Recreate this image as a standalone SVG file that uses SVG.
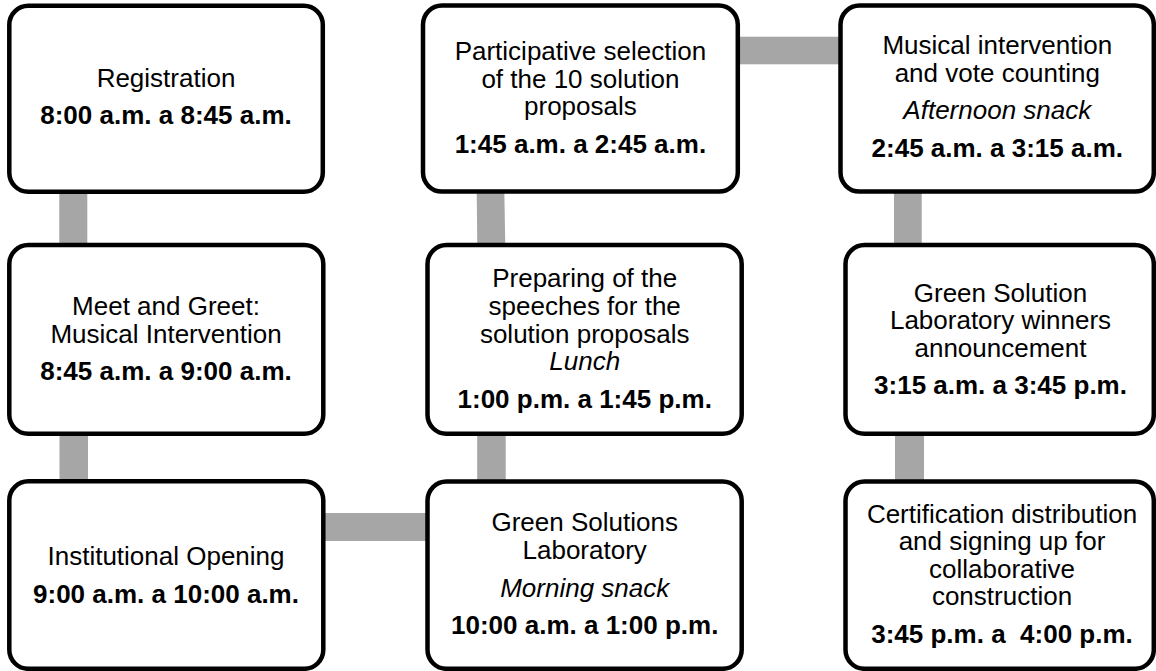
<svg xmlns="http://www.w3.org/2000/svg" width="1156" height="671" viewBox="0 0 1156 671">
  <style>
    .box { fill: #ffffff; stroke: #000000; stroke-width: 4.5; }
    .bar { fill: #a6a6a6; }
    text { font-family: "Liberation Sans", Arial, sans-serif; font-size: 26px; fill: #000000; text-anchor: middle; }
    .b { font-weight: bold; }
    .i { font-style: italic; }
  </style>
  <rect width="1156" height="671" fill="#ffffff"/>
  <g id="connectors">
    <rect class="bar" x="59.3" y="190" width="28" height="58"/>
    <rect class="bar" x="59.5" y="430" width="28.5" height="55"/>
    <rect class="bar" x="320" y="513" width="110" height="28"/>
    <rect class="bar" x="477.2" y="430" width="28.5" height="55"/>
    <polygon class="bar" points="476.7,190 504.3,190 505.3,248 477.3,248"/>
    <rect class="bar" x="735" y="36.7" width="110" height="27.6"/>
    <rect class="bar" x="894" y="190" width="27.7" height="58"/>
    <rect class="bar" x="895" y="430" width="29" height="55"/>
  </g>
  <g id="registration">
    <rect class="box" x="9.3" y="5.8" width="313.5" height="186" rx="19"/>
    <text x="166" y="87.3">Registration</text>
    <text class="b" x="166" y="124.3">8:00 a.m. a 8:45 a.m.</text>
  </g>
  <g id="meet-greet">
    <rect class="box" x="9.3" y="245" width="314" height="188.8" rx="19"/>
    <text x="166" y="315">Meet and Greet:</text>
    <text x="166" y="342.7">Musical Intervention</text>
    <text class="b" x="166" y="380">8:45 a.m. a 9:00 a.m.</text>
  </g>
  <g id="institutional-opening">
    <rect class="box" x="9.3" y="481.3" width="314" height="187.5" rx="19"/>
    <text x="166" y="565">Institutional Opening</text>
    <text class="b" x="166" y="602.7">9:00 a.m. a 10:00 a.m.</text>
  </g>
  <g id="participative-selection">
    <rect class="box" x="423" y="5.6" width="314.8" height="186" rx="19"/>
    <text x="580.4" y="60">Participative selection</text>
    <text x="580.4" y="87.5">of the 10 solution</text>
    <text x="580.4" y="115">proposals</text>
    <text class="b" x="580.4" y="153.3">1:45 a.m. a 2:45 a.m.</text>
  </g>
  <g id="preparing-speeches">
    <rect class="box" x="427.5" y="245" width="314.2" height="188.8" rx="19"/>
    <text x="584.7" y="287.3">Preparing of the</text>
    <text x="584.7" y="315">speeches for the</text>
    <text x="584.7" y="342.7">solution proposals</text>
    <text class="i" x="584.7" y="370">Lunch</text>
    <text class="b" x="584.7" y="408.3">1:00 p.m. a 1:45 p.m.</text>
  </g>
  <g id="green-solutions-lab">
    <rect class="box" x="427.5" y="481.5" width="314.2" height="187.3" rx="19"/>
    <text x="584.7" y="531">Green Solutions</text>
    <text x="584.7" y="558.7">Laboratory</text>
    <text class="i" x="584.7" y="596.7">Morning snack</text>
    <text class="b" x="584.7" y="634">10:00 a.m. a 1:00 p.m.</text>
  </g>
  <g id="musical-vote">
    <rect class="box" x="840.5" y="5.6" width="313.3" height="186" rx="19"/>
    <text x="997.3" y="54.3">Musical intervention</text>
    <text x="997.3" y="81.7">and vote counting</text>
    <text class="i" x="997.3" y="119">Afternoon snack</text>
    <text class="b" x="997.3" y="156.7">2:45 a.m. a 3:15 a.m.</text>
  </g>
  <g id="winners-announcement">
    <rect class="box" x="845.5" y="245" width="308.3" height="188.8" rx="19"/>
    <text x="1000.5" y="301.5">Green Solution</text>
    <text x="1000.5" y="329">Laboratory winners</text>
    <text x="1000.5" y="356.5">announcement</text>
    <text class="b" x="1000.5" y="394.3">3:15 a.m. a 3:45 p.m.</text>
  </g>
  <g id="certification">
    <rect class="box" x="845.5" y="481.5" width="308.3" height="187.3" rx="19"/>
    <text x="1002" y="522.7">Certification distribution</text>
    <text x="1002" y="550">and signing up for</text>
    <text x="1002" y="577.7">collaborative</text>
    <text x="1002" y="605">construction</text>
    <text class="b" x="1002" y="643.3" xml:space="preserve">3:45 p.m. a  4:00 p.m.</text>
  </g>
</svg>
